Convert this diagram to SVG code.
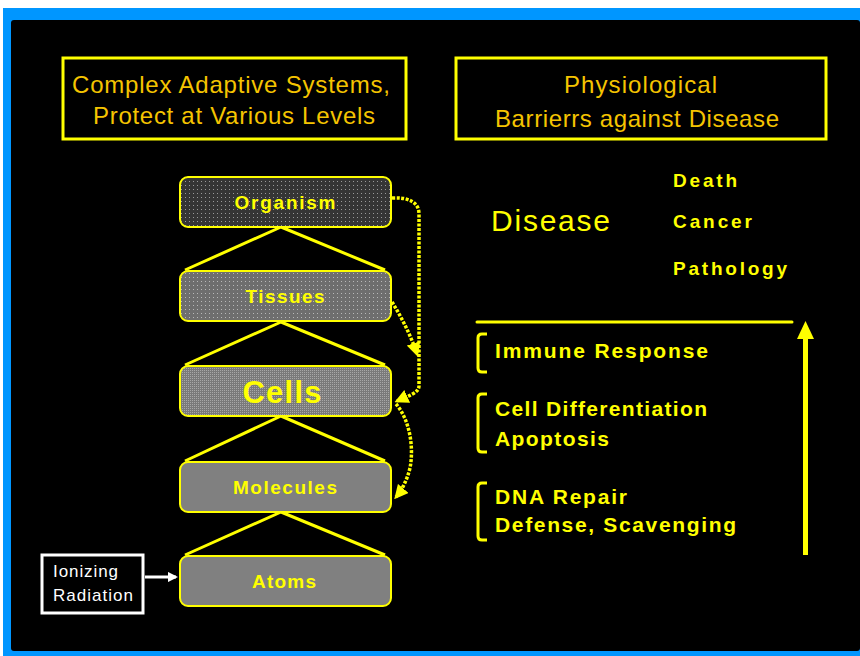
<svg xmlns="http://www.w3.org/2000/svg" width="860" height="656" viewBox="0 0 860 656">
<defs>
<style>
.hdr{font-family:"Liberation Sans",Arial,sans-serif;font-size:24px;fill:#f5c400;}
.nodebox{stroke:#ffff00;stroke-width:2;}
.nl{font-family:"Liberation Sans",Arial,sans-serif;font-weight:bold;font-size:19px;fill:#ffff00;text-anchor:middle;}
.tri{fill:none;stroke:#ffff00;stroke-width:3;stroke-linejoin:round;}
.dot{fill:none;stroke:#ffff00;stroke-width:3.5;stroke-dasharray:3 1.5;}
.rt{font-family:"Liberation Sans",Arial,sans-serif;font-weight:bold;font-size:21px;fill:#ffff00;}
.br{fill:none;stroke:#ffff00;stroke-width:3;}
</style>
<pattern id="pOrg" width="4" height="4" patternUnits="userSpaceOnUse"><rect width="4" height="4" fill="#353535"/><rect x="1" y="1" width="1" height="1" fill="#9a9a9a"/></pattern>
<pattern id="pTis" width="4" height="4" patternUnits="userSpaceOnUse"><rect width="4" height="4" fill="#6e6e6e"/><rect x="1" y="1" width="1" height="1" fill="#b8b8b8"/></pattern>
<pattern id="pCel" width="2" height="2" patternUnits="userSpaceOnUse"><rect width="2" height="2" fill="#7a7a7a"/><rect x="0" y="0" width="1" height="1" fill="#a8a8a8"/></pattern>
<marker id="ay" viewBox="0 0 10 10" refX="8" refY="5" markerWidth="4" markerHeight="4" orient="auto" markerUnits="strokeWidth"><path d="M0,0 L10,5 L0,10 z" fill="#ffff00"/></marker>
<marker id="aw" viewBox="0 0 10 10" refX="8" refY="5" markerWidth="3.5" markerHeight="3.5" orient="auto" markerUnits="strokeWidth"><path d="M0,0 L10,5 L0,10 z" fill="#ffffff"/></marker>
</defs>

<rect x="0" y="0" width="860" height="656" fill="#ffffff"/>
<rect x="3" y="8" width="857" height="648" fill="#0096ff"/>
<rect x="11" y="20" width="849" height="631" rx="3" fill="#000000"/>

<g id="header-left">
<rect x="63" y="58" width="343" height="81" fill="none" stroke="#ffff00" stroke-width="3"/>
<text class="hdr" x="72" y="93" textLength="318" lengthAdjust="spacing">Complex Adaptive Systems,</text>
<text class="hdr" x="93" y="124" textLength="282" lengthAdjust="spacing">Protect at Various Levels</text>
</g>
<g id="header-right">
<rect x="456" y="58" width="370" height="81" fill="none" stroke="#ffff00" stroke-width="3"/>
<text class="hdr" x="564" y="93" textLength="153" lengthAdjust="spacing">Physiological</text>
<text class="hdr" x="495" y="127" textLength="284" lengthAdjust="spacing">Barrierrs against Disease</text>
</g>

<g id="triangles">
<polyline class="tri" points="185,270 281,227 385,270"/>
<polyline class="tri" points="185,365 281,322 385,365"/>
<polyline class="tri" points="185,461 281,416 385,461"/>
<polyline class="tri" points="185,555 281,512 385,555"/>
</g>

<g id="organism">
<rect class="nodebox" x="180" y="177" width="211" height="50" rx="8" fill="url(#pOrg)"/>
<text class="nl" x="285" y="209" textLength="101" lengthAdjust="spacing">Organism</text>
</g>
<g id="tissues">
<rect class="nodebox" x="180" y="271" width="211" height="50" rx="8" fill="url(#pTis)"/>
<text class="nl" x="285" y="303" textLength="79" lengthAdjust="spacing">Tissues</text>
</g>
<g id="cells">
<rect class="nodebox" x="180" y="366" width="211" height="50" rx="8" fill="url(#pCel)"/>
<text class="nl" x="282" y="403" style="font-size:31px" textLength="79" lengthAdjust="spacing">Cells</text>
</g>
<g id="molecules">
<rect class="nodebox" x="180" y="462" width="211" height="50" rx="8" fill="#808080"/>
<text class="nl" x="285" y="494" textLength="104" lengthAdjust="spacing">Molecules</text>
</g>
<g id="atoms">
<rect class="nodebox" x="180" y="556" width="211" height="50" rx="8" fill="#808080"/>
<text class="nl" x="284" y="588" textLength="64" lengthAdjust="spacing">Atoms</text>
</g>

<g id="ionizing-radiation">
<rect x="42" y="555" width="101" height="58" fill="#000000" stroke="#ffffff" stroke-width="3"/>
<text x="53" y="577" font-family="Liberation Sans, Arial, sans-serif" font-size="17" fill="#ffffff" textLength="65" lengthAdjust="spacing">Ionizing</text>
<text x="53" y="601" font-family="Liberation Sans, Arial, sans-serif" font-size="17" fill="#ffffff" textLength="80" lengthAdjust="spacing">Radiation</text>
</g>

<g id="connectors">
<line x1="145" y1="577" x2="176" y2="577" stroke="#ffffff" stroke-width="3" marker-end="url(#aw)"/>
<path class="dot" d="M392,198 C408,197 419,202 419,214 L419,386 C419,393 408,396 397,401" marker-end="url(#ay)"/>
<path class="dot" d="M392,302 C402,318 411,336 417,354" marker-end="url(#ay)"/>
<path class="dot" d="M396,404 C410,420 414,448 410,468 C407,480 402,490 396,497" marker-end="url(#ay)"/>
</g>

<g id="disease">
<text x="491" y="231" font-family="Liberation Sans, Arial, sans-serif" font-size="30" fill="#ffff00" textLength="119" lengthAdjust="spacing">Disease</text>
<text class="rt" x="673" y="187" style="font-size:19px" textLength="64" lengthAdjust="spacing">Death</text>
<text class="rt" x="673" y="228" style="font-size:19px" textLength="79" lengthAdjust="spacing">Cancer</text>
<text class="rt" x="673" y="275" style="font-size:19px" textLength="114" lengthAdjust="spacing">Pathology</text>
</g>

<g id="barriers">
<line x1="477" y1="322" x2="792" y2="322" stroke="#ffff00" stroke-width="3" stroke-linecap="round"/>
<rect x="803" y="336" width="5" height="219" fill="#ffff00"/>
<polygon points="805.5,321 814,339 797,339" fill="#ffff00"/>
<path class="br" d="M487,334 L482,334 Q478,334 478,338 L478,368 Q478,372 482,372 L487,372"/>
<path class="br" d="M487,394 L482,394 Q478,394 478,398 L478,448 Q478,452 482,452 L487,452"/>
<path class="br" d="M487,483 L482,483 Q478,483 478,487 L478,536 Q478,540 482,540 L487,540"/>
<text class="rt" x="495" y="358" textLength="213" lengthAdjust="spacing">Immune Response</text>
<text class="rt" x="495" y="416" textLength="212" lengthAdjust="spacing">Cell Differentiation</text>
<text class="rt" x="495" y="446" textLength="114" lengthAdjust="spacing">Apoptosis</text>
<text class="rt" x="495" y="504" textLength="132" lengthAdjust="spacing">DNA Repair</text>
<text class="rt" x="495" y="532" textLength="241" lengthAdjust="spacing">Defense, Scavenging</text>
</g>
</svg>
